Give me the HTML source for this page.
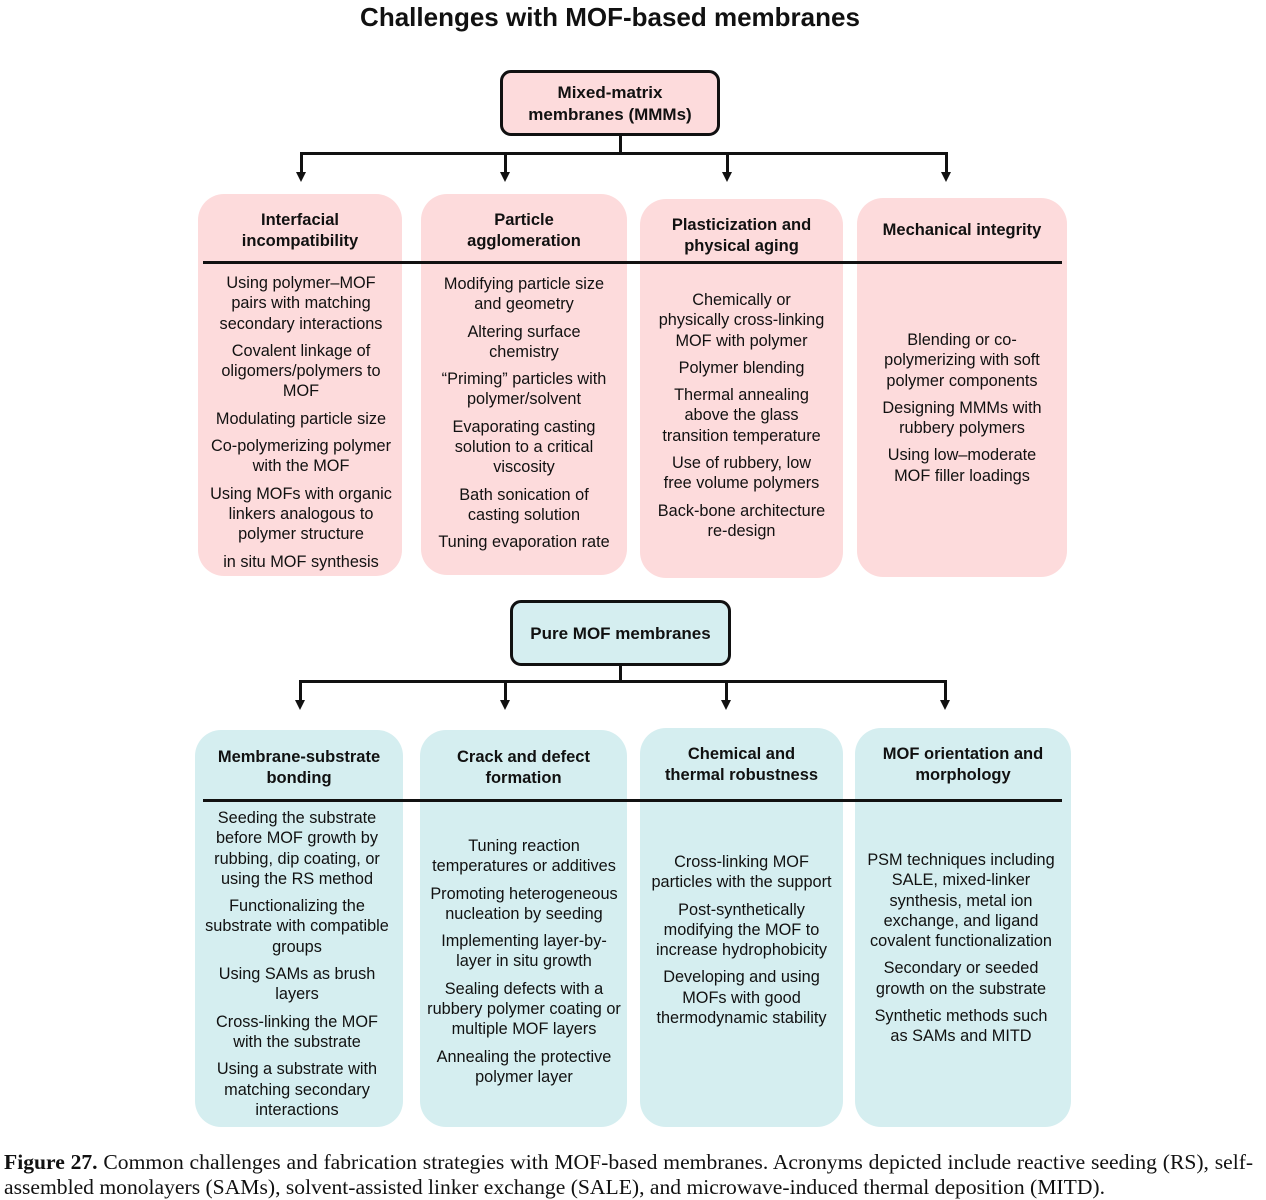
<!DOCTYPE html>
<html><head><meta charset="utf-8"><style>
body{margin:0;width:1266px;height:1200px;background:#fff;position:relative;font-family:"Liberation Sans",Arial,sans-serif;color:#111;overflow:hidden}
.a{position:absolute}
.box{position:absolute;border-radius:26px}
.p{background:#fddbdc}
.t{background:#d5eef0}
.hd{position:absolute;text-align:center;font-weight:bold;font-size:16.5px;line-height:20.5px}
.bd{position:absolute;text-align:center;font-size:16.3px;line-height:20.3px}
.bd div{margin-bottom:7px}
.top{position:absolute;border:3px solid #111;border-radius:11px;text-align:center;font-weight:bold;font-size:17px;line-height:22px;box-sizing:border-box;display:flex;align-items:center;justify-content:center}
.ln{position:absolute;background:#111}
.ar{position:absolute;width:0;height:0;border-left:5px solid transparent;border-right:5px solid transparent;border-top:10px solid #111}
.cap{position:absolute;left:4px;width:1259px;font-family:"Liberation Serif",serif;font-size:21.6px;line-height:25px;white-space:nowrap}
</style></head><body>
<div class="a" style="left:0;width:1220px;top:2px;text-align:center;font-weight:bold;font-size:26px">Challenges with MOF-based membranes</div>

<div class="top p" style="left:500px;top:70px;width:220px;height:66px;padding-top:2px">Mixed-matrix<br>membranes (MMMs)</div>
<div class="ln" style="left:619px;top:136px;width:3px;height:19px"></div>
<div class="ln" style="left:300px;top:152px;width:648px;height:3px"></div>
<div class="ln" style="left:300px;top:152px;width:3px;height:22px"></div><div class="ar" style="left:296px;top:172px"></div>
<div class="ln" style="left:504px;top:152px;width:3px;height:22px"></div><div class="ar" style="left:500px;top:172px"></div>
<div class="ln" style="left:726px;top:152px;width:3px;height:22px"></div><div class="ar" style="left:722px;top:172px"></div>
<div class="ln" style="left:945px;top:152px;width:3px;height:22px"></div><div class="ar" style="left:941px;top:172px"></div>

<div class="box p" style="left:198px;top:194px;width:204px;height:382px"></div>
<div class="box p" style="left:421px;top:194px;width:206px;height:381px"></div>
<div class="box p" style="left:640px;top:199px;width:203px;height:379px"></div>
<div class="box p" style="left:857px;top:198px;width:210px;height:379px"></div>
<div class="ln" style="left:203px;top:261px;width:859px;height:3px"></div>

<div class="hd" style="left:198px;width:204px;top:210px">Interfacial<br>incompatibility</div>
<div class="hd" style="left:421px;width:206px;top:210px">Particle<br>agglomeration</div>
<div class="hd" style="left:640px;width:203px;top:215px">Plasticization and<br>physical aging</div>
<div class="hd" style="left:857px;width:210px;top:220px">Mechanical integrity</div>

<div class="bd" style="left:198px;width:206px;top:273px"><div>Using polymer–MOF<br>pairs with matching<br>secondary interactions</div><div>Covalent linkage of<br>oligomers/polymers to<br>MOF</div><div>Modulating particle size</div><div>Co-polymerizing polymer<br>with the MOF</div><div>Using MOFs with organic<br>linkers analogous to<br>polymer structure</div><div>in situ MOF synthesis</div></div>
<div class="bd" style="left:421px;width:206px;top:274px"><div>Modifying particle size<br>and geometry</div><div>Altering surface<br>chemistry</div><div>“Priming” particles with<br>polymer/solvent</div><div>Evaporating casting<br>solution to a critical<br>viscosity</div><div>Bath sonication of<br>casting solution</div><div>Tuning evaporation rate</div></div>
<div class="bd" style="left:640px;width:203px;top:290px"><div>Chemically or<br>physically cross-linking<br>MOF with polymer</div><div>Polymer blending</div><div>Thermal annealing<br>above the glass<br>transition temperature</div><div>Use of rubbery, low<br>free volume polymers</div><div>Back-bone architecture<br>re-design</div></div>
<div class="bd" style="left:857px;width:210px;top:330px"><div>Blending or co-<br>polymerizing with soft<br>polymer components</div><div>Designing MMMs with<br>rubbery polymers</div><div>Using low–moderate<br>MOF filler loadings</div></div>

<div class="top t" style="left:510px;top:600px;width:221px;height:66px;padding-top:2px">Pure MOF membranes</div>
<div class="ln" style="left:619px;top:666px;width:3px;height:17px"></div>
<div class="ln" style="left:299px;top:680px;width:648px;height:3px"></div>
<div class="ln" style="left:299px;top:680px;width:3px;height:22px"></div><div class="ar" style="left:295px;top:700px"></div>
<div class="ln" style="left:504px;top:680px;width:3px;height:22px"></div><div class="ar" style="left:500px;top:700px"></div>
<div class="ln" style="left:725px;top:680px;width:3px;height:22px"></div><div class="ar" style="left:721px;top:700px"></div>
<div class="ln" style="left:944px;top:680px;width:3px;height:22px"></div><div class="ar" style="left:940px;top:700px"></div>

<div class="box t" style="left:195px;top:730px;width:208px;height:397px"></div>
<div class="box t" style="left:420px;top:730px;width:207px;height:397px"></div>
<div class="box t" style="left:640px;top:728px;width:203px;height:399px"></div>
<div class="box t" style="left:855px;top:728px;width:216px;height:399px"></div>
<div class="ln" style="left:203px;top:799px;width:859px;height:3px"></div>

<div class="hd" style="left:195px;width:208px;top:747px">Membrane-substrate<br>bonding</div>
<div class="hd" style="left:420px;width:207px;top:747px">Crack and defect<br>formation</div>
<div class="hd" style="left:640px;width:203px;top:744px">Chemical and<br>thermal robustness</div>
<div class="hd" style="left:855px;width:216px;top:744px">MOF orientation and<br>morphology</div>

<div class="bd" style="left:193px;width:208px;top:808px"><div>Seeding the substrate<br>before MOF growth by<br>rubbing, dip coating, or<br>using the RS method</div><div>Functionalizing the<br>substrate with compatible<br>groups</div><div>Using SAMs as brush<br>layers</div><div>Cross-linking the MOF<br>with the substrate</div><div>Using a substrate with<br>matching secondary<br>interactions</div></div>
<div class="bd" style="left:420px;width:208px;top:836px"><div>Tuning reaction<br>temperatures or additives</div><div>Promoting heterogeneous<br>nucleation by seeding</div><div>Implementing layer-by-<br>layer in situ growth</div><div>Sealing defects with a<br>rubbery polymer coating or<br>multiple MOF layers</div><div>Annealing the protective<br>polymer layer</div></div>
<div class="bd" style="left:640px;width:203px;top:852px"><div>Cross-linking MOF<br>particles with the support</div><div>Post-synthetically<br>modifying the MOF to<br>increase hydrophobicity</div><div>Developing and using<br>MOFs with good<br>thermodynamic stability</div></div>
<div class="bd" style="left:853px;width:216px;top:850px"><div>PSM techniques including<br>SALE, mixed-linker<br>synthesis, metal ion<br>exchange, and ligand<br>covalent functionalization</div><div>Secondary or seeded<br>growth on the substrate</div><div>Synthetic methods such<br>as SAMs and MITD</div></div>

<div class="cap" style="top:1150px;word-spacing:0.4px"><b>Figure 27.</b> Common challenges and fabrication strategies with MOF-based membranes. Acronyms depicted include reactive seeding (RS), self-</div>
<div class="cap" style="top:1175px">assembled monolayers (SAMs), solvent-assisted linker exchange (SALE), and microwave-induced thermal deposition (MITD).</div>
</body></html>
